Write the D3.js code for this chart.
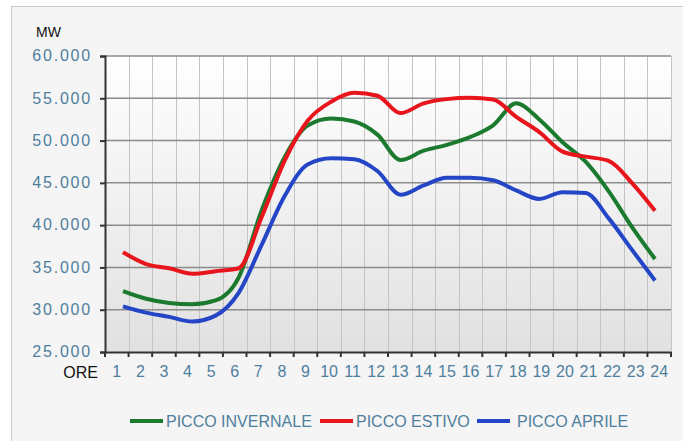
<!DOCTYPE html>
<html>
<head>
<meta charset="utf-8">
<script src="https://cdn.jsdelivr.net/npm/d3@7"></script>
<style>
  html, body { margin: 0; padding: 0; background: #ffffff; }
  svg { display: block; font-family: "Liberation Sans", Arial, sans-serif; }
</style>
</head>
<body>
<svg id="chart" width="683" height="441"></svg>
<script>
// ---- data ----
const hours = d3.range(1, 25);
const hourLabels = hours.map(String);
const yTicks = [25000, 30000, 35000, 40000, 45000, 50000, 55000, 60000];
const seriesNames = ["PICCO INVERNALE", "PICCO ESTIVO", "PICCO APRILE"];
const seriesColors = ["#1b7a2e", "#e8151d", "#2446c6"];
const invernale = [32200, 31300, 30800, 30650, 31100, 33800, 41800, 48100, 51800, 52600, 52250, 50700,
                   47700, 48800, 49500, 50400, 51800, 54400, 52500, 49800, 47500, 44000, 39800, 36000];
const estivo    = [36800, 35400, 34900, 34250, 34550, 34900, 41000, 47700, 52400, 54600, 55650, 55300,
                   53250, 54400, 54900, 55050, 54850, 52800, 51000, 48700, 48100, 47600, 45000, 41700];
const aprile    = [30400, 29650, 29150, 28600, 29300, 32000, 37700, 43500, 47200, 47900, 47800, 46400,
                   43600, 44700, 45600, 45600, 45300, 44100, 43100, 43900, 43800, 40800, 37100, 33450];
const seriesValues = [invernale, estivo, aprile];

// ---- layout ----
const svg = d3.select("#chart");
const L = 105, R = 671, T = 56, B = 352;

// outer panel
svg.append("rect").attr("x", 11.5).attr("y", 6.5).attr("width", 700).attr("height", 460)
  .attr("fill", "#f5f5f5").attr("stroke", "#c9c9c9").attr("stroke-width", 1);

// gradient for plot area
const defs = svg.append("defs");
const grad = defs.append("linearGradient").attr("id", "plotbg").attr("x1", 0).attr("y1", 0).attr("x2", 0).attr("y2", 1);
grad.append("stop").attr("offset", "0%").attr("stop-color", "#ffffff");
grad.append("stop").attr("offset", "100%").attr("stop-color", "#e1e1e1");

svg.append("rect").attr("x", L).attr("y", T).attr("width", R - L).attr("height", B - T).attr("fill", "url(#plotbg)");

// scales
const xBand = d3.scaleBand().domain(hourLabels).range([L, R]).padding(0);
const xLine = d3.scalePoint().domain(hours).range([123, 655]);
const y = d3.scaleLinear().domain([25000, 60000]).range([B, T]);

// vertical grid lines (band boundaries)
const bounds = hourLabels.map(h => xBand(h)).concat([R]);
svg.append("g").selectAll("line").data(bounds.slice(1)).join("line")
  .attr("x1", d => Math.round(d) + 0.5).attr("x2", d => Math.round(d) + 0.5)
  .attr("y1", T).attr("y2", B)
  .attr("stroke", "#c4c4c4").attr("stroke-width", 1);

// horizontal grid lines
svg.append("g").selectAll("line").data(yTicks.slice(1)).join("line")
  .attr("x1", L).attr("x2", R)
  .attr("y1", d => y(d)).attr("y2", d => y(d))
  .attr("stroke", "#8c8c8c").attr("stroke-width", 1.5);

// y axis
const yAxis = svg.append("g").attr("transform", `translate(${L},0)`)
  .call(d3.axisLeft(y).tickValues(yTicks).tickSize(5).tickPadding(8)
    .tickFormat(d => d3.format(",")(d).replace(",", ".")));
yAxis.select(".domain").attr("stroke", "#333").attr("stroke-width", 2);
yAxis.selectAll(".tick line").attr("stroke", "#333").attr("stroke-width", 2);
yAxis.selectAll(".tick text").attr("fill", "#4f7f9e").attr("font-size", 16)
  .attr("letter-spacing", "1.8px").attr("dy", "0.3em")
  .attr("font-family", "'Liberation Sans', Arial, sans-serif");

// x axis
const xAxis = svg.append("g").attr("transform", `translate(0,${B})`)
  .call(d3.axisBottom(xBand).tickSize(0).tickPadding(14));
xAxis.select(".domain").attr("stroke", "#333").attr("stroke-width", 2);
xAxis.selectAll(".tick text").attr("fill", "#4f7f9e").attr("font-size", 16)
  .attr("font-family", "'Liberation Sans', Arial, sans-serif");
svg.append("g").selectAll("line").data(bounds).join("line")
  .attr("x1", d => d).attr("x2", d => d)
  .attr("y1", B).attr("y2", B + 5)
  .attr("stroke", "#333").attr("stroke-width", 2);

// axis titles
svg.append("text").attr("x", 36).attr("y", 37).attr("font-size", 14).attr("fill", "#111").text("MW");
svg.append("text").attr("x", 98).attr("y", 378).attr("text-anchor", "end").attr("font-size", 16).attr("fill", "#111").text("ORE");

// lines
const line = d3.line().x((d, i) => xLine(hours[i])).y(d => y(d)).curve(d3.curveMonotoneX);
svg.append("g").selectAll("path").data(seriesValues).join("path")
  .attr("d", d => line(d))
  .attr("fill", "none")
  .attr("stroke", (d, i) => seriesColors[i])
  .attr("stroke-width", 4)
  .attr("stroke-linejoin", "round")
  .attr("stroke-linecap", "butt");

// legend
const legendX = [130, 320, 477];
const lg = svg.append("g").selectAll("g").data(seriesNames).join("g")
  .attr("transform", (d, i) => `translate(${legendX[i]},421)`);
lg.append("line").attr("x1", 0).attr("x2", 33).attr("y1", 0).attr("y2", 0)
  .attr("stroke", (d, i) => seriesColors[i]).attr("stroke-width", 4);
lg.append("text").attr("x", (d, i) => i === 2 ? 40 : 36).attr("y", 6).attr("font-size", 16)
  .attr("fill", "#4f7f9e").text(d => d);
</script>
</body>
</html>
